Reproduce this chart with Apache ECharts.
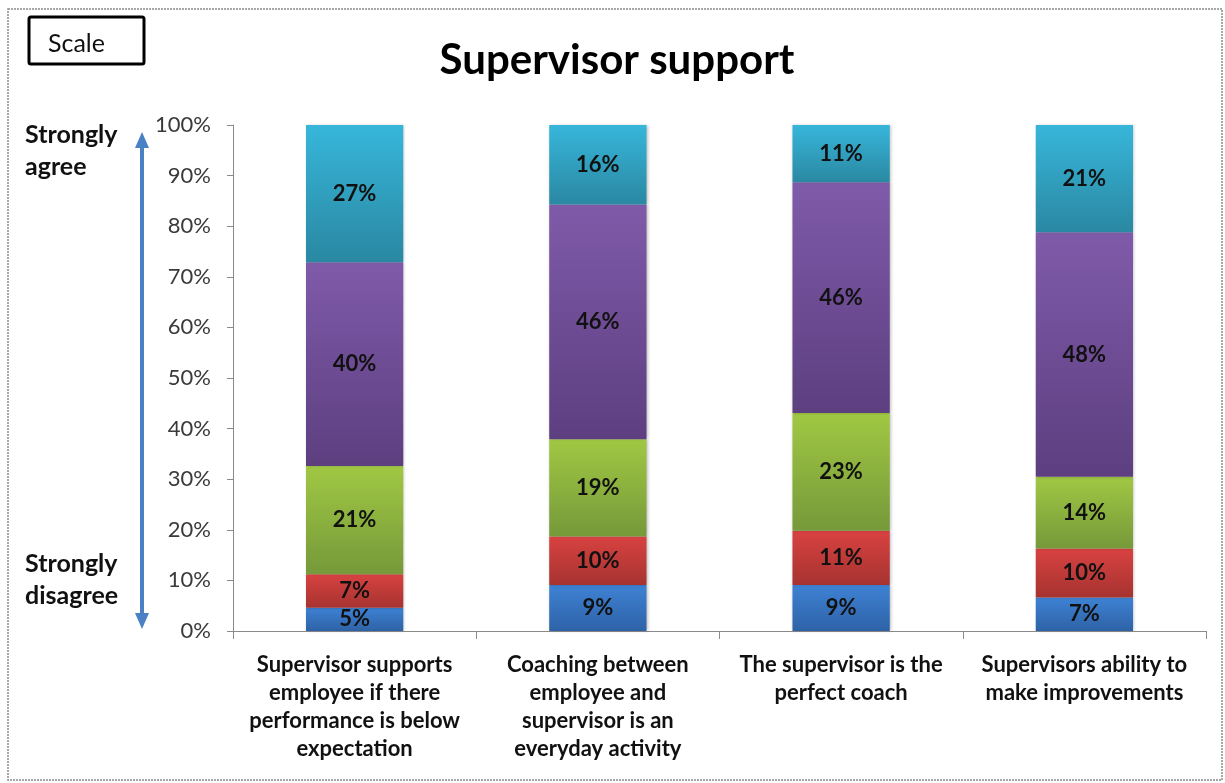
<!DOCTYPE html>
<html>
<head>
<meta charset="utf-8">
<script src="https://cdn.jsdelivr.net/npm/echarts@6/dist/echarts.min.js"></script>
<style>
html,body{margin:0;padding:0;background:#fff;}
#chart{width:1225px;height:783px;}
</style>
</head>
<body>
<div id="chart"></div>
<script>
// Data
var categories = [
  "Supervisor supports\nemployee if there\nperformance is below\nexpectation",
  "Coaching between\nemployee and\nsupervisor is an\neveryday activity",
  "The supervisor is the\nperfect coach",
  "Supervisors ability to\nmake improvements"
];
var seriesNames = ["Strongly disagree", "Disagree", "Neutral", "Agree", "Strongly agree"];
var s1 = [4.6, 9.1, 9.1, 6.6];
var s2 = [6.6, 9.6, 10.7, 9.7];
var s3 = [21.4, 19.2, 23.3, 14.2];
var s4 = [40.3, 46.4, 45.6, 48.3];
var s5 = [27.1, 15.7, 11.3, 21.2];
var labels1 = ["5%", "9%", "9%", "7%"];
var labels2 = ["7%", "10%", "11%", "10%"];
var labels3 = ["21%", "19%", "23%", "14%"];
var labels4 = ["40%", "46%", "46%", "48%"];
var labels5 = ["27%", "16%", "11%", "21%"];
var yTicks = [0, 10, 20, 30, 40, 50, 60, 70, 80, 90, 100];

var FONT = "Lato, 'Open Sans', sans-serif";
function grad(top, bottom) {
  return new echarts.graphic.LinearGradient(0, 0, 0, 1, [
    {offset: 0, color: top}, {offset: 1, color: bottom}
  ]);
}
var colors = [
  grad('#3e82d4', '#2e62a6'),
  grad('#d84241', '#a63330'),
  grad('#a0c843', '#76993a'),
  grad('#7f5aa9', '#5d3f80'),
  grad('#37b6da', '#2a88a2')
];
var allData = [s1, s2, s3, s4, s5];
var allLabels = [labels1, labels2, labels3, labels4, labels5];

var series = allData.map(function (d, i) {
  return {
    name: seriesNames[i],
    type: 'bar',
    stack: 'total',
    barWidth: '40%',
    data: d,
    itemStyle: {color: colors[i], shadowColor: 'rgba(0,0,0,0.25)', shadowBlur: 3, shadowOffsetX: 1},
    label: {
      show: true,
      position: 'inside',
      fontFamily: FONT,
      fontWeight: 'bold',
      fontSize: 22,
      color: '#111',
      formatter: function (p) { return allLabels[i][p.dataIndex]; }
    }
  };
});

var chart = echarts.init(document.getElementById('chart'), null, {renderer: 'canvas'});
chart.setOption({
  animation: false,
  backgroundColor: '#fff',
  grid: {left: 233, right: 19, top: 125, bottom: 152, containLabel: false},
  xAxis: {
    type: 'category',
    data: categories,
    axisLine: {lineStyle: {color: '#8a8a8a', width: 1}},
    axisTick: {show: true, length: 8, lineStyle: {color: '#8a8a8a'}},
    axisLabel: {
      interval: 0,
      margin: 20,
      fontFamily: FONT,
      fontWeight: 'bold',
      fontSize: 22,
      lineHeight: 28,
      color: '#111'
    }
  },
  yAxis: {
    type: 'value',
    min: yTicks[0],
    max: yTicks[yTicks.length - 1],
    interval: 10,
    splitLine: {show: false},
    axisLine: {show: true, lineStyle: {color: '#8a8a8a', width: 1}},
    axisTick: {show: true, length: 6, lineStyle: {color: '#8a8a8a'}},
    axisLabel: {
      margin: 22,
      fontFamily: FONT,
      fontSize: 22,
      color: '#3a3a3a',
      formatter: function (v) { return v + '%'; }
    }
  },
  series: series,
  graphic: [
    {type: 'rect', shape: {x: 8, y: 9, width: 1214, height: 771},
     style: {fill: 'none', stroke: '#8c8c8c', lineWidth: 1.5, lineDash: [2, 1]}, silent: true},
    {type: 'rect', shape: {x: 29, y: 17, width: 115, height: 47, r: 2},
     style: {fill: '#fff', stroke: '#000', lineWidth: 3}},
    {type: 'text', x: 48, y: 44, style: {text: 'Scale', font: '25px ' + FONT, fill: '#111', textVerticalAlign: 'middle'}},
    {type: 'text', x: 617, y: 60, style: {text: 'Supervisor support', font: 'bold 42px ' + FONT, fill: '#000', textAlign: 'center', textVerticalAlign: 'middle'}},
    {type: 'text', x: 25, y: 119, style: {text: 'Strongly\nagree', font: 'bold 25px ' + FONT, fill: '#111', lineHeight: 32}},
    {type: 'text', x: 25, y: 548, style: {text: 'Strongly\ndisagree', font: 'bold 25px ' + FONT, fill: '#111', lineHeight: 32}},
    {type: 'line', shape: {x1: 142, y1: 145, x2: 142, y2: 616},
     style: {stroke: '#4a80c4', lineWidth: 4}},
    {type: 'polygon', shape: {points: [[142, 132], [135, 148], [149, 148]]},
     style: {fill: '#4a80c4'}},
    {type: 'polygon', shape: {points: [[142, 629], [135, 613], [149, 613]]},
     style: {fill: '#4a80c4'}}
  ]
});
</script>
</body>
</html>
